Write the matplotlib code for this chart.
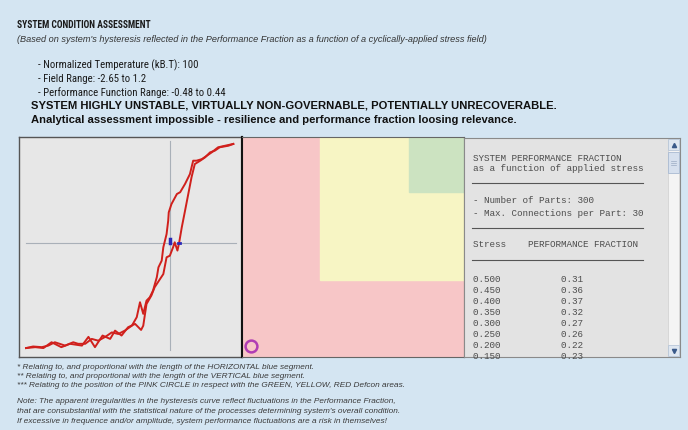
import matplotlib
matplotlib.use('Agg')
import matplotlib.pyplot as plt
from matplotlib.patches import Rectangle
from matplotlib import font_manager

W, H = 688, 431

# hysteresis loop - performance fraction vs applied field
field_up = [-2.65, -2.48, -2.33, -2.18, -2.00, -1.84, -1.62, -1.50, -1.38, -1.24,
            -1.10, -1.01, -0.89, -0.77, -0.64, -0.53, -0.49, -0.43, -0.34, -0.28,
            -0.18, -0.12, -0.06, 0.00, 0.06, 0.09, 0.14, 0.17, 0.22, 0.28,
            0.34, 0.40, 0.46, 0.56, 0.65, 0.74, 0.83, 0.92, 1.08, 1.17]
perf_up = [-0.470, -0.466, -0.470, -0.444, -0.466, -0.451, -0.459, -0.420, -0.466, -0.414,
           -0.429, -0.392, -0.414, -0.377, -0.362, -0.389, -0.370, -0.273, -0.235, -0.198,
           -0.161, -0.139, -0.064, -0.057, -0.019, 0.003, -0.034, -0.001, 0.070, 0.144,
           0.219, 0.294, 0.353, 0.368, 0.383, 0.405, 0.413, 0.428, 0.435, 0.443]
field_down = [1.17, 1.02, 0.89, 0.77, 0.68, 0.59, 0.49, 0.43, 0.37, 0.28,
              0.19, 0.13, 0.03, -0.02, -0.03, -0.06, -0.09, -0.12, -0.15, -0.21,
              -0.24, -0.31, -0.37, -0.43, -0.49, -0.55, -0.61, -0.70, -0.83, -0.95,
              -1.07, -1.19, -1.32, -1.44, -1.56, -1.69, -1.78, -1.93, -2.12, -2.24,
              -2.36, -2.52, -2.65]
perf_down = [0.443, 0.435, 0.428, 0.405, 0.390, 0.375, 0.368, 0.368, 0.308, 0.264,
             0.227, 0.219, 0.174, 0.137, 0.100, 0.040, 0.010, -0.019, -0.079, -0.109,
             -0.153, -0.213, -0.243, -0.258, -0.317, -0.265, -0.332, -0.370, -0.392, -0.407,
             -0.400, -0.420, -0.437, -0.429, -0.451, -0.451, -0.444, -0.459, -0.444, -0.459,
             -0.466, -0.463, -0.470]

# blue segments (coercivity / remanence)
horiz_seg = [0.15, 0.18]
vert_seg = [0.0, 0.02]

# defcon areas and position of the pink circle (fraction of panel)
yellow_from = 0.35
green_from = 0.75
circle_x, circle_y = 0.04, 0.05

# table in the right panel
stress = [0.500, 0.450, 0.400, 0.350, 0.300, 0.250, 0.200, 0.150]
perf_frac = [0.31, 0.36, 0.37, 0.32, 0.27, 0.26, 0.22, 0.23]

title = 'SYSTEM CONDITION ASSESSMENT'
subtitle = ("(Based on system's hysteresis reflected in the Performance Fraction "
            "as a function of a cyclically-applied stress field)")
bullets = ['- Normalized Temperature (kB.T): 100',
           '- Field Range: -2.65 to 1.2',
           '- Performance Function Range: -0.48 to 0.44']
verdict = ['SYSTEM HIGHLY UNSTABLE, VIRTUALLY NON-GOVERNABLE, POTENTIALLY UNRECOVERABLE.',
           'Analytical assessment impossible - resilience and performance fraction loosing relevance.']
footer = ['* Relating to, and proportional with the length of the HORIZONTAL blue segment.',
          '** Relating to, and proportional with the length of the VERTICAL blue segment.',
          '*** Relating to the position of the PINK CIRCLE in respect with the GREEN, YELLOW, RED Defcon areas.',
          'Note: The apparent irregularities in the hysteresis curve reflect fluctuations in the Performance Fraction,',
          "that are consubstantial with the statistical nature of the processes determining system's overall condition.",
          'If excessive in frequence and/or amplitude, system performance fluctuations are a risk in themselves!']

BG = '#d4e5f2'

# look for a condensed face, fall back to plain sans
names = {f.name for f in font_manager.fontManager.ttflist}
NARROW = 'Liberation Sans'
for cand in ['Liberation Sans Narrow', 'DejaVu Sans Condensed', 'Roboto Condensed',
             'Open Sans Condensed', 'Noto Sans Condensed']:
    if cand in names:
        NARROW = cand
        break

fig = plt.figure(figsize=(W / 100, H / 100), dpi=100)
fig.patch.set_facecolor(BG)


def box(x0, y0, x1, y1):
    return [x0 / W, 1 - y1 / H, (x1 - x0) / W, (y1 - y0) / H]


# left panel: hysteresis curve
ax = fig.add_axes(box(19, 138, 242, 358))
ax.set_facecolor('#e7e7e7')
ax.axvline(0, ymin=0.03, ymax=0.98, color='#a9b0b8', lw=0.8, zorder=1)
ax.axhline(0, xmin=0.03, xmax=0.975, color='#a9b0b8', lw=0.8, zorder=1)
ax.plot(field_down, perf_down, color='#d0201c', lw=1.4, zorder=2)
ax.plot(field_up, perf_up, color='#d0201c', lw=1.4, zorder=2)
ax.plot([0, 0], vert_seg, color='#2a2ab8', lw=2.5, zorder=3)
ax.plot(horiz_seg, [0, 0], color='#2a2ab8', lw=2, zorder=3)
ax.set_xlim(-2.78, 1.33)
ax.set_ylim(-0.51, 0.474)
ax.set_xticks([])
ax.set_yticks([])
for s in ax.spines.values():
    s.set_color('#555555')
    s.set_linewidth(1)
ax.spines['right'].set_color('#111111')
ax.spines['right'].set_linewidth(1.5)

# middle panel: defcon areas
mid = fig.add_axes(box(242, 138, 464, 358))
mid.set_xlim(0, 1)
mid.set_ylim(0, 1)
mid.add_patch(Rectangle((0, 0), 1, 1, color='#f7c6c7'))
mid.add_patch(Rectangle((yellow_from, yellow_from), 1 - yellow_from, 1 - yellow_from,
                        color='#f7f5c4'))
mid.add_patch(Rectangle((green_from, green_from), 1 - green_from, 1 - green_from,
                        color='#cce3c1'))
mid.plot(circle_x, circle_y, 'o', ms=8.5, mfc='none', mec='#b03cb4', mew=1.8)
mid.set_xticks([])
mid.set_yticks([])
for s in mid.spines.values():
    s.set_color('#666666')
mid.spines['left'].set_color('#111111')
mid.spines['left'].set_linewidth(1.5)

# right panel: text box
rp = fig.add_axes(box(464, 139, 680, 358))
rp.set_facecolor('#e3e3e3')
rp.set_xticks([])
rp.set_yticks([])
for s in rp.spines.values():
    s.set_color('#8a8a8a')

# overlay in pixel coordinates for text
ov = fig.add_axes([0, 0, 1, 1])
ov.set_xlim(0, W)
ov.set_ylim(H, 0)
ov.axis('off')
ov.patch.set_alpha(0)

renderer = fig.canvas.get_renderer()


def fit(t, width):
    w = t.get_window_extent(renderer).width
    return t.get_fontsize() * width / w


def put(x, y, s, width=None, size=8, **kw):
    t = ov.text(x, y, s, va='center', ha='left', fontsize=size, **kw)
    if width:
        t.set_fontsize(fit(t, width))
    return t


put(17, 25, title, 135, family=NARROW, weight='bold', color='#1a1a1a')
put(17, 40, subtitle, 473, family='Liberation Sans', style='italic', color='#333333')

t = put(38, 65, bullets[0], 160, family=NARROW, color='#1a1a1a')
for i, b in enumerate(bullets[1:]):
    put(38, 79 + 14 * i, b, size=t.get_fontsize(), family=NARROW, color='#1a1a1a')

t = put(31, 106, verdict[0], 528, family='Liberation Sans', weight='bold', color='#111111')
put(31, 120, verdict[1], size=t.get_fontsize(), family='Liberation Sans',
    weight='bold', color='#111111')

# footnotes and note share one size, taken from the first note line
fy = [368, 377, 386, 402, 412, 422]
t = put(17, fy[3], footer[3], 383, family='Liberation Sans', style='italic', color='#3a3a3a')
for line, y in zip(footer, fy):
    if line != footer[3]:
        put(17, y, line, size=t.get_fontsize(), family='Liberation Sans',
            style='italic', color='#3a3a3a')

# right panel content
mono = dict(family='Liberation Mono', size=6.7, color='#4d4d4d')
put(473, 159, 'SYSTEM PERFORMANCE FRACTION', **mono)
put(473, 168.5, 'as a function of applied stress', **mono)
ov.plot([472, 643], [184, 184], color='#555555', lw=0.8)
put(473, 201, '- Number of Parts: 300', **mono)
put(473, 214, '- Max. Connections per Part: 30', **mono)
ov.plot([472, 643], [228.5, 228.5], color='#555555', lw=0.8)
put(473, 245, 'Stress    PERFORMANCE FRACTION', **mono)
ov.plot([472, 643], [261, 261], color='#555555', lw=0.8)
for i, (s, p) in enumerate(zip(stress, perf_frac)):
    put(473, 279.5 + 10.95 * i, f'{s:.3f}' + ' ' * 11 + f'{p:.2f}', **mono)

# scrollbar
ov.add_patch(Rectangle((668, 140), 11, 217, fc='#f4f4f4', ec='#d4d4d4', lw=0.6))
ov.add_patch(Rectangle((668, 140), 11, 11, fc='#dfe7f1', ec='#b8c6d8', lw=0.6))
ov.add_patch(Rectangle((668, 346), 11, 11, fc='#dfe7f1', ec='#b8c6d8', lw=0.6))
ov.add_patch(Rectangle((668, 153), 11, 21, fc='#d6e0ee', ec='#a9bad2', lw=0.6))
ov.plot(673.5, 145.5, marker='^', ms=3, color='#3a5a8a')
ov.plot(673.5, 351.5, marker='v', ms=3, color='#3a5a8a')
for gy in [161.5, 163.5, 165.5]:
    ov.plot([671, 676], [gy, gy], color='#9aaac2', lw=0.5)

fig.savefig('out.png', dpi=100, facecolor=BG)
